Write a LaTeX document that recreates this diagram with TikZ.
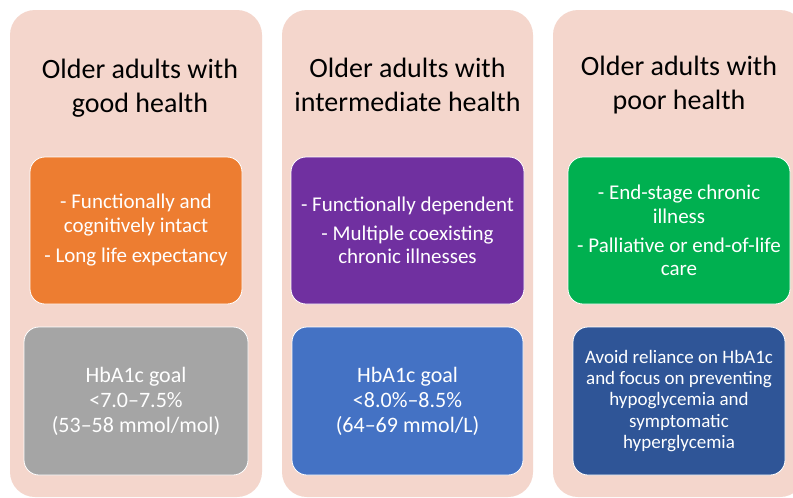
\documentclass[tikz,border=0pt]{standalone}
\usepackage{fontspec}
\setmainfont{Carlito}
\definecolor{colpink}{HTML}{F4D6CC}
\definecolor{cOrange}{HTML}{ED7D31}
\definecolor{cPurple}{HTML}{7030A0}
\definecolor{cGreen}{HTML}{00B050}
\definecolor{cGray}{HTML}{A5A5A5}
\definecolor{cBlue}{HTML}{4472C4}
\definecolor{cDark}{HTML}{2F5597}
\tikzset{
  column/.style={rectangle, rounded corners=25pt, fill=colpink, draw=none,
    minimum width=252pt, minimum height=487pt, inner sep=0pt},
  heading/.style={align=center, text=black, inner sep=0pt,
    font=\fontsize{28}{34}\selectfont},
  infobox/.style={rectangle, rounded corners=15pt, draw=white, line width=0.8pt,
    text=white, align=center, inner sep=0pt, minimum height=147pt,
    font=\fontsize{21}{23.5}\selectfont},
  goalbox/.style={rectangle, rounded corners=15pt, draw=white, line width=0.8pt,
    text=white, align=center, inner sep=0pt, minimum height=148pt,
    font=\fontsize{22}{25}\selectfont},
}
\begin{document}
\begin{tikzpicture}[x=1pt,y=-1pt]
\clip (0,0) rectangle (793,498);
\useasboundingbox (0,0) rectangle (793,498);
\fill[white] (0,0) rectangle (793,498);

\node[column] (c1) at (136,253.5) {};
\node[column, minimum width=251pt] (c2) at (407.5,253.5) {};
\node[column] (c3) at (679,253.5) {};

\node[heading] (h1) at (140,88) {Older adults with\\good health};
\node[heading] (h2) at (407.5,85) {Older adults with\\intermediate health};
\node[heading] (h3) at (679,85) {Older adults with\\poor health};

\node[infobox, fill=cOrange, minimum width=212pt] (b1) at (136,230.5)
  {- Functionally and\\cognitively intact\\[7pt]- Long life expectancy};
\node[infobox, fill=cPurple, minimum width=233pt] (b2) at (407.5,230.5)
  {- Functionally dependent\\[5pt]- Multiple coexisting\\chronic illnesses};
\node[infobox, fill=cGreen, minimum width=222pt] (b3) at (679,230.5)
  {- End-stage chronic\\illness\\[5.5pt]- Palliative or end-of-life\\care};

\node[goalbox, fill=cGray, minimum width=224pt] (g1) at (136,401)
  {HbA1c goal\\<7.0–7.5\%\\(53–58 mmol/mol)};
\node[goalbox, fill=cBlue, minimum width=231pt] (g2) at (407.5,401)
  {HbA1c goal\\<8.0\%–8.5\%\\(64–69 mmol/L)};
\node[goalbox, fill=cDark, minimum width=212pt, font=\fontsize{19}{21.3}\selectfont] (g3) at (679,401)
  {Avoid reliance on HbA1c\\and focus on preventing\\hypoglycemia and\\symptomatic\\hyperglycemia};
\end{tikzpicture}
\end{document}
